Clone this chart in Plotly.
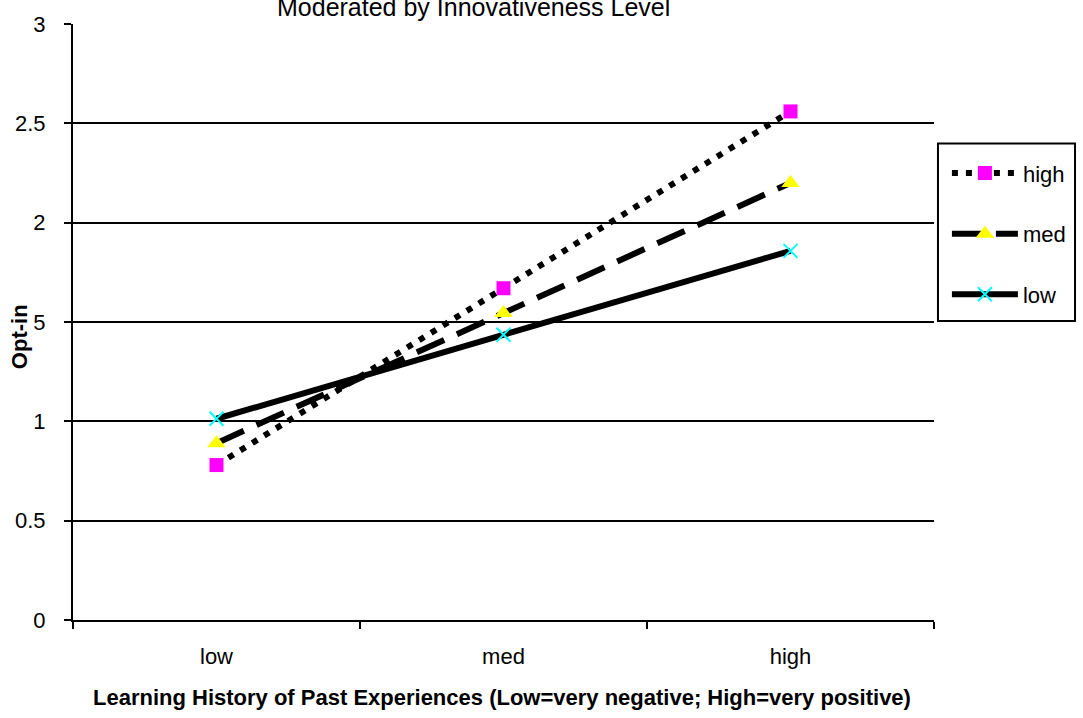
import plotly.graph_objects as go

categories = ["low", "med", "high"]
series_names = ["high", "med", "low"]
high_vals = [0.78, 1.67, 2.56]
med_vals = [0.89, 1.545, 2.20]
low_vals = [1.013, 1.436, 1.858]
y_ticks = [0, 0.5, 1, 1.5, 2, 2.5, 3]
y_tick_labels = ["0", "0.5", "1", "1.5", "2", "2.5", "3"]

W, H = 1083, 718
L, R, T, B = 73, 940, 16, 620
FONT = "Arial, Liberation Sans, sans-serif"


def px_x(p):
    return (p - L) / (R - L)


def px_y(p):
    return (B - p) / (B - T)


fig = go.Figure()

styles = [
    dict(vals=high_vals, dash="6px,8px", width=6,
         marker=dict(symbol="square", size=14, color="#FF00FF", line=dict(width=0))),
    dict(vals=med_vals, dash="30px,14px", width=6,
         marker=dict(symbol="triangle-up", size=16, color="#FFFF00", line=dict(width=0))),
    dict(vals=low_vals, dash="solid", width=6,
         marker=dict(symbol="x-thin", size=14, color="#00FFFF", line=dict(width=2, color="#00FFFF"))),
]

for name, st in zip(series_names, styles):
    fig.add_trace(go.Scatter(
        x=categories, y=st["vals"], name=name, mode="lines+markers",
        line=dict(color="black", width=st["width"], dash=st["dash"]),
        marker=st["marker"], legendgroup=name,
    ))

fig.update_layout(
    width=W, height=H,
    margin=dict(l=L, r=W - R, t=T, b=H - B),
    paper_bgcolor="white", plot_bgcolor="white",
    font=dict(family=FONT, size=22, color="black"),
    showlegend=True,
    legend=dict(
        x=px_x(953), y=px_y(146), xanchor="left", yanchor="top",
        bgcolor="rgba(0,0,0,0)", borderwidth=0,
        font=dict(size=22, family=FONT),
        itemwidth=66, tracegroupgap=29, traceorder="grouped",
    ),
    xaxis=dict(
        type="category", range=[-0.5, 2.5],
        showgrid=False, showline=True, linecolor="black", linewidth=2,
        ticks="outside", ticklen=7, tickwidth=2, tickcolor="black",
        tickson="boundaries", ticklabelstandoff=16,
        tickfont=dict(size=22, family=FONT),
        zeroline=False, fixedrange=True,
    ),
    yaxis=dict(
        range=[0, 3], tickvals=y_ticks, ticktext=y_tick_labels,
        showgrid=True, gridcolor="black", gridwidth=1.5,
        showline=True, linecolor="black", linewidth=2,
        ticks="outside", ticklen=7, tickwidth=2, tickcolor="black",
        ticklabelstandoff=14, tickfont=dict(size=22, family=FONT),
        zeroline=False, fixedrange=True,
    ),
    shapes=[dict(
        type="rect", xref="paper", yref="paper",
        x0=px_x(944), x1=px_x(1082), y0=px_y(317), y1=px_y(137),
        line=dict(color="black", width=2), fillcolor="rgba(0,0,0,0)",
    )],
    annotations=[
        dict(text="Moderated by Innovativeness Level", xref="paper", yref="paper",
             x=px_x(476), y=px_y(-1.5), xanchor="center", yanchor="middle",
             showarrow=False, font=dict(size=25, family=FONT)),
        dict(text="<b>Learning History of Past Experiences (Low=very negative; High=very positive)</b>",
             xref="paper", yref="paper", x=px_x(505), y=px_y(699),
             xanchor="center", yanchor="middle", showarrow=False,
             font=dict(size=22, family=FONT)),
        dict(text="<b>Opt-in</b>", xref="paper", yref="paper",
             x=px_x(19), y=px_y(333), xanchor="center", yanchor="middle",
             textangle=-90, showarrow=False, bgcolor="white",
             font=dict(size=22, family=FONT)),
    ],
)

fig.write_html("out.html")
